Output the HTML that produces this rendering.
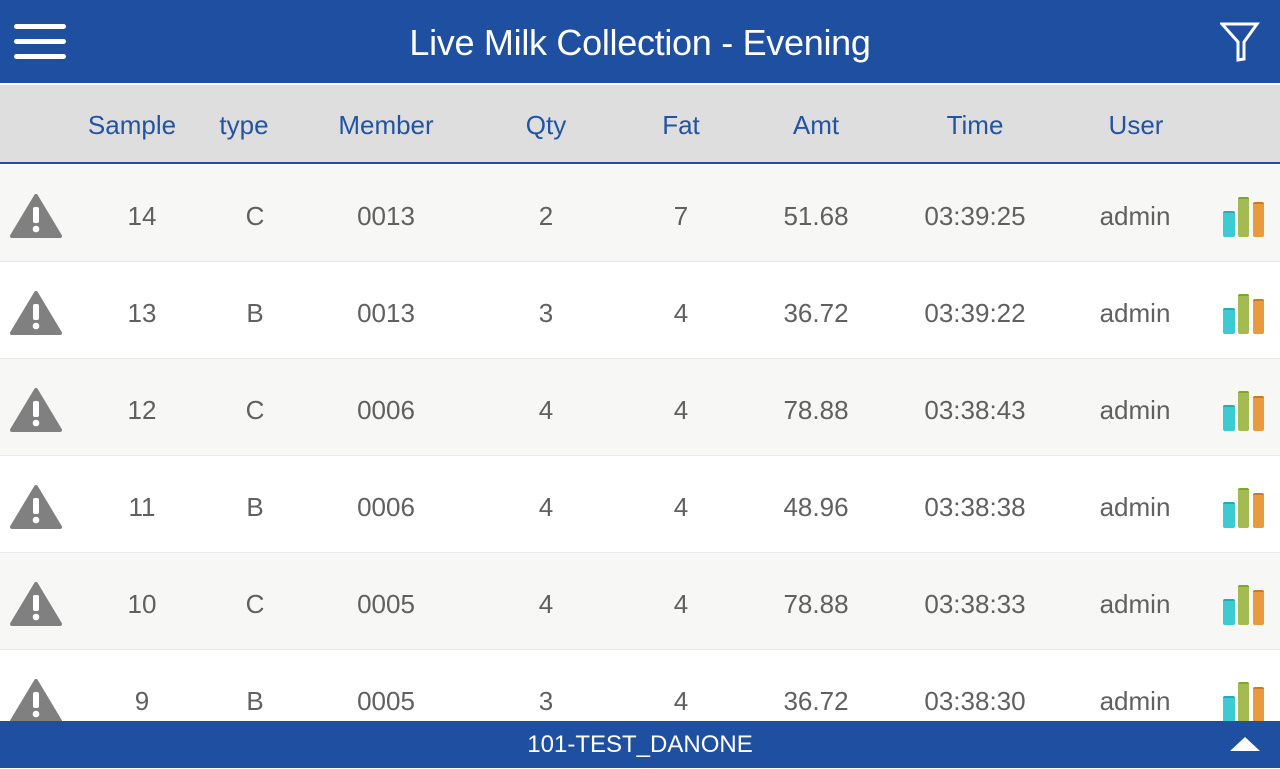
<!DOCTYPE html><html><head><style>
body{margin:0;width:1280px;height:768px;overflow:hidden;font-family:"Liberation Sans",sans-serif;background:#fff;position:relative}
.top{position:absolute;left:0;top:0;width:1280px;height:83px;background:#1e4fa0;color:#fff;font-size:36px;text-align:center;line-height:86px;letter-spacing:-0.3px}
.hb{position:absolute;left:14px;width:52px;height:5px;background:#fff;border-radius:3px}
.hdr{position:absolute;top:85px;left:0;width:1280px;height:77px;background:#dedede;border-bottom:2px solid #1e4fa0}
.c{position:absolute;transform:translateX(-50%);white-space:nowrap}
.hdr .c{top:25px;color:#2254a4;font-size:26px}
.row{position:absolute;left:0;width:1280px;height:96px;border-bottom:1px solid #e8e8e8}
.row .c{top:36px;color:#606060;font-size:26px}
.foot{position:absolute;left:0;top:721px;width:1280px;height:47px;background:#1e4fa0;color:#fff;font-size:24px;text-align:center;line-height:48px}
</style></head><body>
<div class="top">Live Milk Collection - Evening
<div class="hb" style="top:24px"></div><div class="hb" style="top:39px"></div><div class="hb" style="top:54px"></div>
<svg style="position:absolute;left:1220px;top:22px" width="40" height="40"><path d="M2 2H37L24 20V37L18 38V20Z" fill="none" stroke="#fff" stroke-width="3"/></svg>
</div>
<div class="hdr">
<span class="c" style="left:132px">Sample</span><span class="c" style="left:244px">type</span><span class="c" style="left:386px">Member</span><span class="c" style="left:546px">Qty</span><span class="c" style="left:681px">Fat</span><span class="c" style="left:816px">Amt</span><span class="c" style="left:975px">Time</span><span class="c" style="left:1136px">User</span>
</div>
<div id="rows"></div>
<div class="foot">101-TEST_DANONE
<svg style="position:absolute;left:1228px;top:12px" width="34" height="22"><path d="M2 18L17 4L32 18Z" fill="#fff"/></svg></div>
<script>
var d=[["14","C","0013","2","7","51.68","03:39:25"],["13","B","0013","3","4","36.72","03:39:22"],["12","C","0006","4","4","78.88","03:38:43"],["11","B","0006","4","4","48.96","03:38:38"],["10","C","0005","4","4","78.88","03:38:33"],["9","B","0005","3","4","36.72","03:38:30"]];
var x=[142,255,386,546,681,816,975];var h="";
d.forEach(function(r,i){var t=165+97*i;h+='<div class="row" style="top:'+t+'px;background:'+(i%2?'#fff':'#f7f7f5')+'">';
h+='<svg style="position:absolute;left:10px;top:28px" width="52" height="46"><path d="M26 3L50 43H2Z" fill="#808080" stroke="#808080" stroke-width="4" stroke-linejoin="round"/><rect x="23" y="14" width="6" height="16" rx="2" fill="#fff"/><circle cx="26" cy="36" r="3.3" fill="#fff"/></svg>';
r.forEach(function(v,j){h+='<span class="c" style="left:'+x[j]+'px">'+v+'</span>'});
h+='<span class="c" style="left:1135px">admin</span>';
h+='<div style="position:absolute;left:1223px;top:46px;width:12px;height:24px;background:#3ccbd3;border-top:2px solid #2aa9b3;border-radius:2px"></div><div style="position:absolute;left:1238px;top:32px;width:11px;height:38px;background:#a4bb51;border-top:2px solid #7fa62a;border-radius:2px"></div><div style="position:absolute;left:1253px;top:37px;width:11px;height:33px;background:#e89a3c;border-top:2px solid #c97a28;border-radius:2px"></div>';
h+='</div>'});
document.getElementById('rows').innerHTML=h;
</script>
</body></html>
